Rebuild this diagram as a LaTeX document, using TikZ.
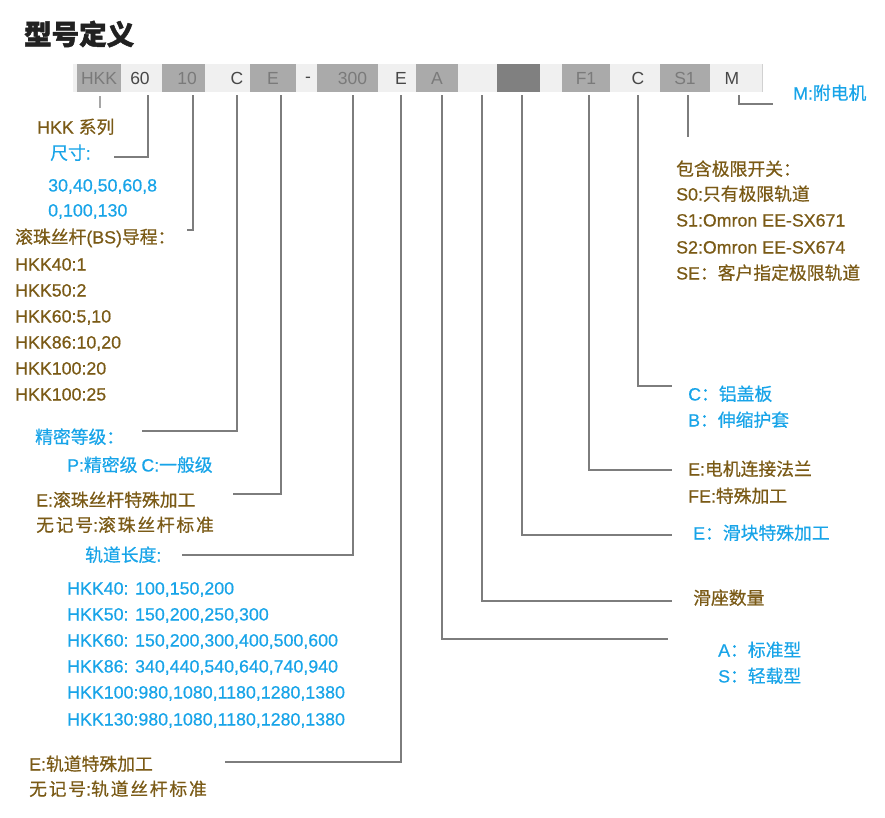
\documentclass[tikz,border=0pt]{standalone}
\usepackage{fontspec}
\setmainfont{Liberation Sans}
\newfontfamily\latfont[FakeBold=0.6]{Liberation Sans}
\newfontfamily\latfontsp[FakeBold=0.6,LetterSpace=10]{Liberation Sans}
\newfontfamily\cjkfont[FakeBold=0.6]{Noto Sans CJK SC}
\newfontfamily\cjkfontsp[FakeBold=0.6,LetterSpace=10]{Noto Sans CJK SC}
\newfontfamily\titlefont[BoldFeatures={FakeBold=1.6}]{Noto Sans CJK SC}
\newfontfamily\barfont{Liberation Sans}
\def\curcjk{\cjkfont}\def\curlat{\latfont}
\newXeTeXintercharclass\CJKcls
\newcount\cjkc
\cjkc="4E00 \loop\XeTeXcharclass\cjkc=\CJKcls \ifnum\cjkc<"9FFF \advance\cjkc by 1 \repeat
\cjkc="3000 \loop\XeTeXcharclass\cjkc=\CJKcls \ifnum\cjkc<"303F \advance\cjkc by 1 \repeat
\cjkc="FF00 \loop\XeTeXcharclass\cjkc=\CJKcls \ifnum\cjkc<"FFEF \advance\cjkc by 1 \repeat
\XeTeXinterchartoks 0 \CJKcls={\curcjk}
\XeTeXinterchartoks 4095 \CJKcls={\curcjk}
\XeTeXinterchartoks \CJKcls 0={\curlat}
\XeTeXinterchartoks 4095 0={\curlat}
\XeTeXinterchartokenstate=1
\definecolor{tbrown}{RGB}{122,90,22}
\definecolor{tblue}{RGB}{24,164,232}
\definecolor{lgray}{RGB}{125,125,125}
\definecolor{barbg}{RGB}{240,240,240}
\definecolor{boxg}{RGB}{170,170,170}
\definecolor{boxd}{RGB}{128,128,128}
\tikzset{
  lab/.style={anchor=west, inner sep=0pt, text height=13pt, text depth=0pt, font=\fontsize{17.8}{20}\selectfont},
  brlab/.style={lab, text=tbrown},
  bllab/.style={lab, text=tblue},
  spaced/.style={font=\fontsize{17.8}{20}\selectfont\def\curcjk{\cjkfontsp}\def\curlat{\latfontsp}},
  cell/.style={minimum height=28pt, inner sep=0pt, font=\fontsize{17.5}{20}\selectfont\def\curlat{\barfont}, text=black!72},
  cellg/.style={cell, fill=boxg, text=black!52},
  conn/.style={draw=lgray, line width=1.3pt},
}
\begin{document}
\begin{tikzpicture}[x=1pt,y=-1pt]
\useasboundingbox (0,0) rectangle (885,817);
% title
\node[anchor=west, inner sep=0pt, font=\fontsize{27.5}{30}\selectfont\bfseries\def\curcjk{\titlefont\bfseries}, text=black!87] (title) at (24,34) {型号定义};
% bar
\fill[barbg] (73,64) rectangle (762,92);
\draw[black!18, line width=1pt] (762,64) -- (762,92);
\node[cellg, minimum width=44pt] (cHKK) at (99,78) {HKK};
\node[cell] (c60) at (140,78) {60};
\node[cellg, minimum width=43pt] (c10) at (183.5,78) {\hspace*{7pt}10};
\node[cell] (cC) at (237,78) {C};
\node[cellg, minimum width=46pt] (cE) at (273,78) {E};
\node[cell] (cdash) at (308,80) {-};
\node[cellg, minimum width=61pt] (c300) at (347.5,78) {\hspace*{10pt}300};
\node[cell] (cE2) at (401,78) {E};
\node[cellg, minimum width=42pt] (cA) at (437,78) {A};
\node[cell, fill=boxd, minimum width=43pt] (cdark) at (518.5,78) {};
\node[cellg, minimum width=48pt] (cF1) at (586,78) {F1};
\node[cell] (cC2) at (638,78) {C};
\node[cellg, minimum width=50pt] (cS1) at (685,78) {S1};
\node[cell] (cM) at (732,78) {M};
% line start points
\coordinate (sHKK) at (100,96);
\coordinate (s60) at (148,95);
\coordinate (s10) at (193,95);
\coordinate (sC) at (237,95);
\coordinate (sE) at (281,95);
\coordinate (s300) at (353,95);
\coordinate (sE2) at (401,95);
\coordinate (sA) at (442,95);
\coordinate (sN) at (482,95);
\coordinate (sD) at (522,95);
\coordinate (sF1) at (589,95);
\coordinate (sC2) at (638,95);
\coordinate (sS1) at (688,95);
\coordinate (sM) at (739,95);
% line end points
\coordinate (eHKK) at (100,108);
\coordinate (e60) at (114,157);
\coordinate (e10) at (187,230);
\coordinate (eC) at (142,431);
\coordinate (eE) at (233,494);
\coordinate (e300) at (182,555);
\coordinate (eE2) at (225,762);
\coordinate (eA) at (668,639);
\coordinate (eN) at (672,601);
\coordinate (eD) at (672,535);
\coordinate (eF1) at (672,470);
\coordinate (eC2) at (672,386);
\coordinate (eS1) at (688,137);
\coordinate (eM) at (773,104);
% connectors
\draw[conn, draw=black!35] (sHKK) -- (eHKK);
\draw[conn] (s60) |- (e60);
\draw[conn] (s10) |- (e10);
\draw[conn] (sC) |- (eC);
\draw[conn] (sE) |- (eE);
\draw[conn] (s300) |- (e300);
\draw[conn] (sE2) |- (eE2);
\draw[conn] (sA) |- (eA);
\draw[conn] (sN) |- (eN);
\draw[conn] (sD) |- (eD);
\draw[conn] (sF1) |- (eF1);
\draw[conn] (sC2) |- (eC2);
\draw[conn] (sS1) -- (eS1);
\draw[conn] (sM) |- (eM);
% left labels
\node[brlab] (lHKK) at (37,127) {HKK 系列};
\node[bllab] (lSize) at (50,153) {尺寸:};
\node[bllab] (lSize1) at (48,185) {30,40,50,60,8};
\node[bllab] (lSize2) at (48,210) {0,100,130};
\node[brlab] (lBS) at (15,237) {滚珠丝杆(BS)导程：};
\node[brlab] (lBS1) at (15,264) {HKK40:1};
\node[brlab] (lBS2) at (15,290) {HKK50:2};
\node[brlab] (lBS3) at (15,316) {HKK60:5,10};
\node[brlab] (lBS4) at (15,342) {HKK86:10,20};
\node[brlab] (lBS5) at (15,368) {HKK100:20};
\node[brlab] (lBS6) at (15,394) {HKK100:25};
\node[bllab] (lPrec) at (35,437) {精密等级：};
\node[bllab] (lPrec1) at (67,465) {P:精密级 C:一般级};
\node[brlab] (lEbs) at (36,500) {E:滚珠丝杆特殊加工};
\node[brlab, spaced] (lEbs2) at (36,525) {无记号:滚珠丝杆标准};
\node[bllab] (lLen) at (85,555) {轨道长度:};
\node[bllab] (lLen1) at (67,588) {HKK40: 100,150,200};
\node[bllab] (lLen2) at (67,614) {HKK50: 150,200,250,300};
\node[bllab] (lLen3) at (67,640) {HKK60: 150,200,300,400,500,600};
\node[bllab] (lLen4) at (67,666) {HKK86: 340,440,540,640,740,940};
\node[bllab] (lLen5) at (67,692) {HKK100:980,1080,1180,1280,1380};
\node[bllab] (lLen6) at (67,719) {HKK130:980,1080,1180,1280,1380};
\node[brlab] (lErail) at (29,764) {E:轨道特殊加工};
\node[brlab, spaced] (lErail2) at (29,789) {无记号:轨道丝杆标准};
% right labels
\node[bllab] (lM) at (793,93) {M:附电机};
\node[brlab] (lSw) at (676,169) {包含极限开关：};
\node[brlab] (lSw0) at (676,194) {S0:只有极限轨道};
\node[brlab] (lSw1) at (676,220) {S1:Omron EE-SX671};
\node[brlab] (lSw2) at (676,247) {S2:Omron EE-SX674};
\node[brlab] (lSwE) at (676,273) {SE：客户指定极限轨道};
\node[bllab] (lCov1) at (688,394) {C：铝盖板};
\node[bllab] (lCov2) at (688,420) {B：伸缩护套};
\node[brlab] (lFl1) at (688,469) {E:电机连接法兰};
\node[brlab] (lFl2) at (688,496) {FE:特殊加工};
\node[bllab] (lSl) at (693,533) {E：滑块特殊加工};
\node[brlab] (lNum) at (693,598) {滑座数量};
\node[bllab] (lTy1) at (718,650) {A：标准型};
\node[bllab] (lTy2) at (718,676) {S：轻载型};
\end{tikzpicture}
\end{document}
